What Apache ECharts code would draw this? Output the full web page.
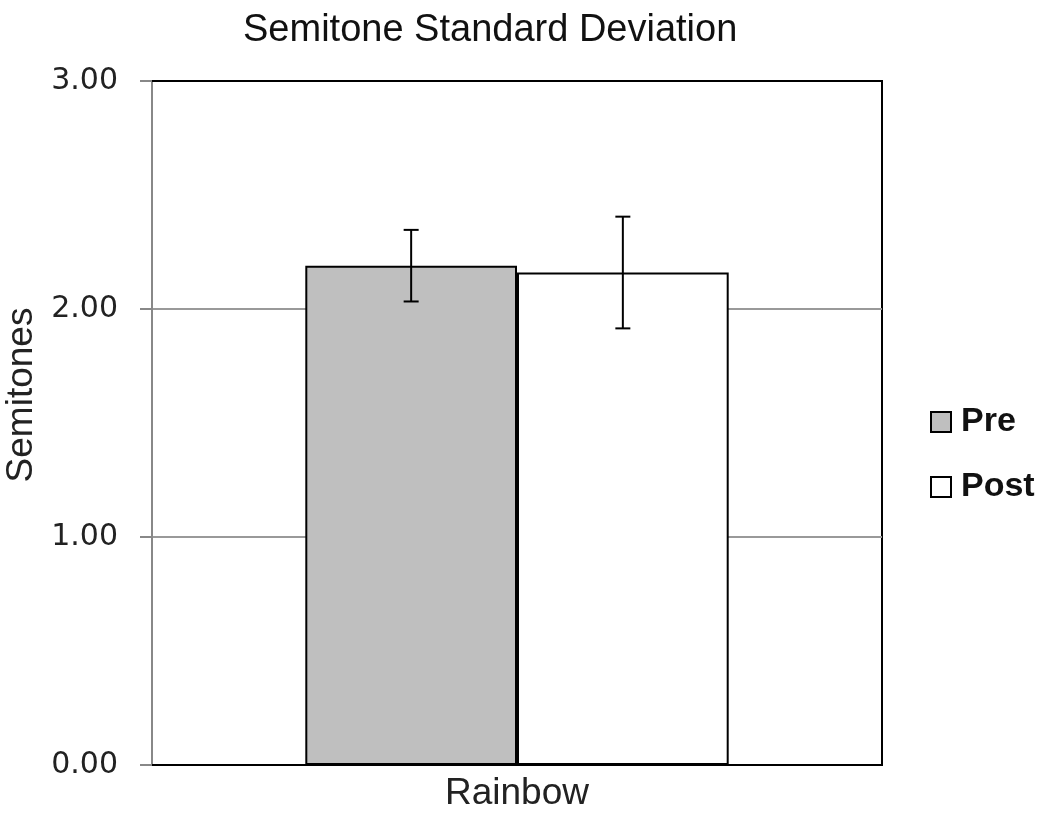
<!DOCTYPE html>
<html>
<head>
<meta charset="utf-8">
<script src="https://cdn.jsdelivr.net/npm/echarts@6/dist/echarts.min.js"></script>
<style>
  html, body { margin: 0; padding: 0; background: #fff; }
  #chart { width: 1050px; height: 818px; }
</style>
</head>
<body>
<div id="chart"></div>
<script>
const categories = ['Rainbow'];
const preMean = [2.19];
const preErr = [0.157];
const postMean = [2.16];
const postErr = [0.245];
const yTicks = [0, 1, 2, 3];

const GAP = 0.42; // barCategoryGap fraction

const myChart = echarts.init(document.getElementById('chart'));

// error bars, drawn over the two bars (offset = +/- half bar width)
function errorSeries(name, mean, err, side) {
  return {
    name: name + ' err',
    type: 'custom',
    z: 5,
    silent: true,
    data: mean.map((m, i) => [i, m - err[i], m + err[i]]),
    renderItem: function (params, api) {
      const band = api.size([1, 0])[0];
      const barW = band * (1 - GAP) / 2;
      const lo = api.coord([api.value(0), api.value(1)]);
      const hi = api.coord([api.value(0), api.value(2)]);
      const x = lo[0] + side * barW / 2;
      const cap = 7.5;
      const style = { stroke: '#000', lineWidth: 2 };
      return {
        type: 'group',
        children: [
          { type: 'line', shape: { x1: x, y1: lo[1], x2: x, y2: hi[1] }, style: style },
          { type: 'line', shape: { x1: x - cap, y1: lo[1], x2: x + cap, y2: lo[1] }, style: style },
          { type: 'line', shape: { x1: x - cap, y1: hi[1], x2: x + cap, y2: hi[1] }, style: style }
        ]
      };
    }
  };
}

const option = {
  animation: false,
  backgroundColor: '#fff',
  title: {
    text: 'Semitone Standard Deviation',
    left: 238,
    top: 7,
    textStyle: {
      fontFamily: 'Liberation Sans',
      fontWeight: 'normal',
      fontSize: 38,
      color: '#111'
    }
  },
  legend: {
    orient: 'vertical',
    left: 930,
    top: 405,
    padding: 0,
    itemWidth: 20,
    itemHeight: 20,
    itemGap: 31,
    icon: 'rect',
    data: ['Pre', 'Post'],
    textStyle: {
      fontFamily: 'Liberation Sans',
      fontWeight: 'bold',
      fontSize: 34,
      color: '#111',
      padding: [0, 0, 0, 5]
    }
  },
  grid: {
    left: 152,
    right: 168,
    top: 81,
    bottom: 53,
    outerBoundsMode: 'none',
    show: true,
    borderColor: '#000',
    borderWidth: 2,
    backgroundColor: '#fff'
  },
  xAxis: [
    {
      type: 'category',
      data: categories,
      axisTick: { show: false },
      axisLine: { lineStyle: { color: '#000', width: 2 } },
      axisLabel: {
        fontFamily: 'Liberation Sans',
        fontSize: 37,
        color: '#222',
        margin: 10
      }
    },
    {
      // top border of the frame
      type: 'category',
      position: 'top',
      data: categories,
      axisTick: { show: false },
      axisLabel: { show: false },
      axisLine: { show: true, lineStyle: { color: '#000', width: 2 } }
    }
  ],
  yAxis: {
    type: 'value',
    name: 'Semitones',
    nameLocation: 'middle',
    nameGap: 111,
    nameTextStyle: {
      fontFamily: 'Liberation Sans',
      fontSize: 37,
      color: '#222',
      padding: [0, 0, 0, 56]
    },
    min: yTicks[0],
    max: yTicks[yTicks.length - 1],
    interval: 1,
    axisLine: { show: true, lineStyle: { color: '#888', width: 2 } },
    axisTick: { show: true, length: 12, lineStyle: { color: '#888', width: 2 } },
    axisLabel: {
      fontFamily: 'DejaVu Sans',
      fontSize: 30,
      color: '#222',
      margin: 34,
      formatter: v => v.toFixed(2)
    },
    splitLine: { lineStyle: { color: '#999', width: 2 } }
  },
  series: [
    {
      name: 'Pre',
      type: 'bar',
      data: preMean,
      barGap: 0,
      barCategoryGap: (GAP * 100) + '%',
      itemStyle: { color: '#bfbfbf', borderColor: '#000', borderWidth: 2 }
    },
    {
      name: 'Post',
      type: 'bar',
      data: postMean,
      barGap: 0,
      barCategoryGap: (GAP * 100) + '%',
      itemStyle: { color: '#fff', borderColor: '#000', borderWidth: 2 }
    },
    errorSeries('Pre', preMean, preErr, -1),
    errorSeries('Post', postMean, postErr, 1)
  ]
};

myChart.setOption(option);
</script>
</body>
</html>
